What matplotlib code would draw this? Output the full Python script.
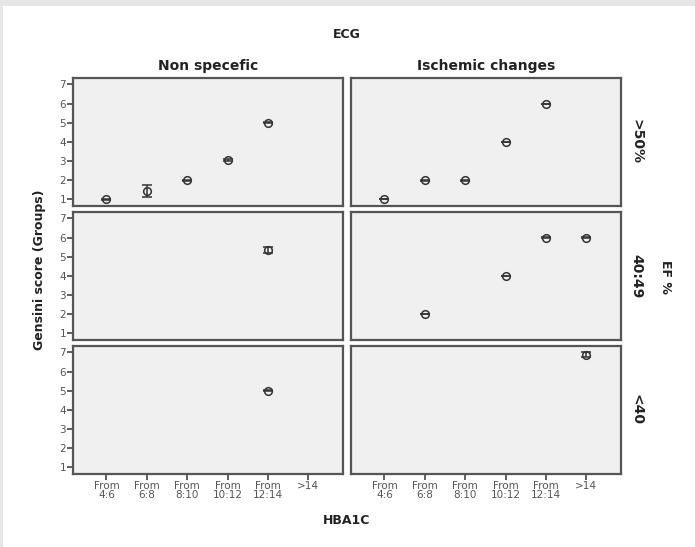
import numpy as np
import matplotlib.pyplot as plt
from matplotlib.patches import Rectangle

# categories
hba1c = ['From\n4:6', 'From\n6:8', 'From\n8:10', 'From\n10:12', 'From\n12:14', '>14']
ecg = ['Non specefic', 'Ischemic changes']
ef = ['>50%', '40:49', '<40']

# (x index, mean, error half-width) per panel [row][col]
pts = {
    (0, 0): ([0, 1, 2, 3, 4], [1.0, 1.44, 2.0, 3.05, 5.0], [0.02, 0.3, 0.02, 0.05, 0.02]),
    (0, 1): ([0, 1, 2, 3, 4], [1.0, 2.0, 2.0, 4.0, 6.0], [0.0, 0.02, 0.02, 0.02, 0.0]),
    (1, 0): ([4], [5.34], [0.15]),
    (1, 1): ([1, 3, 4, 5], [2.0, 4.0, 6.0, 6.0], [0.0, 0.02, 0.02, 0.02]),
    (2, 0): ([4], [5.0], [0.02]),
    (2, 1): ([5], [6.88], [0.12]),
}

W, H = 695, 547
fig = plt.figure(figsize=(W / 100, H / 100), dpi=100)
fig.patch.set_facecolor('#e6e6e6')
fig.patches.append(Rectangle((3 / W, 0), 1, 1 - 6 / H, transform=fig.transFigure,
                             facecolor='white', edgecolor='none', zorder=-1))

# panel boxes in pixels (left, right) and (top, bottom)
cols = [(73, 343), (351, 621)]
rows = [(78, 206), (212, 340), (346, 474)]

for r, (t, b) in enumerate(rows):
    for c, (l, rt) in enumerate(cols):
        ax = fig.add_axes([l / W, 1 - b / H, (rt - l) / W, (b - t) / H])
        ax.set_facecolor('#f0f0f0')
        for s in ax.spines.values():
            s.set_color('#555555')
            s.set_linewidth(1.6)
        ax.set_xlim(-0.83, 5.86)
        ax.set_ylim(0.66, 7.33)
        ax.set_xticks(range(6))
        ax.set_yticks(range(1, 8))
        ax.tick_params(colors='#444444', labelsize=7.5, length=4, width=1.2, pad=1)
        if c == 0:
            ax.set_yticklabels([str(i) for i in range(1, 8)], color='#555555')
        else:
            ax.tick_params(axis='y', left=False, labelleft=False)
        if r == 2:
            ax.set_xticklabels(hba1c, color='#555555', linespacing=0.9)
        else:
            ax.tick_params(axis='x', bottom=False, labelbottom=False)
        x, y, e = pts[(r, c)]
        ax.errorbar(x, y, yerr=e, fmt='o', mfc='none', mec='#333333', ms=5.5,
                    mew=1.1, ecolor='#333333', elinewidth=1.1, capsize=3.5,
                    capthick=1.1)

for c, (l, rt) in enumerate(cols):
    fig.text((l + rt) / 2 / W, 1 - 66 / H, ecg[c], ha='center', va='center',
             fontsize=10, fontweight='bold', color='#222222')
for r, (t, b) in enumerate(rows):
    fig.text(636 / W, 1 - (t + b) / 2 / H, ef[r], ha='center', va='center',
             rotation=-90, fontsize=10, fontweight='bold', color='#222222')

fig.text(347 / W, 1 - 35 / H, 'ECG', ha='center', va='center', fontsize=9,
         fontweight='bold', color='#222222')
fig.text(666 / W, 1 - 277 / H, 'EF %', ha='center', va='center', rotation=-90,
         fontsize=9, fontweight='bold', color='#222222')
fig.text(347 / W, 1 - 521 / H, 'HBA1C', ha='center', va='center', fontsize=9,
         fontweight='bold', color='#222222')
fig.text(40 / W, 1 - 270 / H, 'Gensini score (Groups)', ha='center', va='center',
         rotation=90, fontsize=9, fontweight='bold', color='#222222')

fig.savefig('out.png', dpi=100, facecolor=fig.get_facecolor())
